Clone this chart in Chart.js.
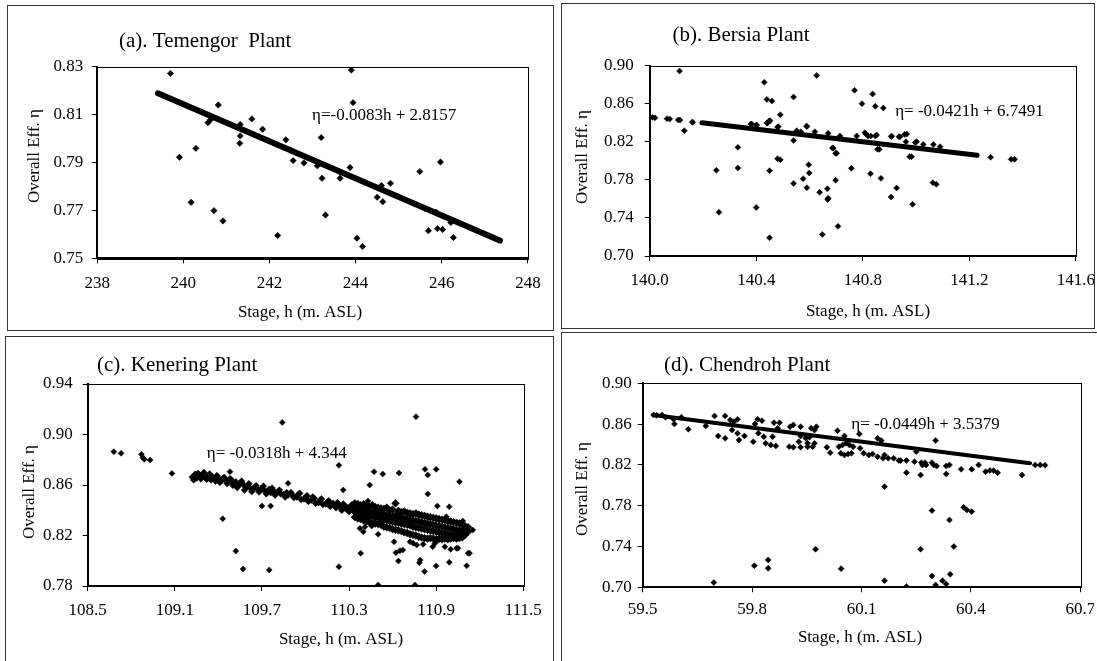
<!DOCTYPE html>
<html><head><meta charset="utf-8">
<script src="https://cdn.jsdelivr.net/npm/chart.js@4.4.0/dist/chart.umd.min.js"></script>
<style>
html,body{margin:0;padding:0;background:#fff;width:1097px;height:661px;overflow:hidden;position:relative}
.frame{position:absolute;border:1.5px solid #333;box-sizing:border-box}
canvas{position:absolute}
</style></head><body>
<div class="frame" style="left:7px;top:5px;width:547px;height:326px"></div>
<div class="frame" style="left:561px;top:3px;width:534px;height:326px"></div>
<div class="frame" style="left:5px;top:336px;width:549px;height:340px"></div>
<div class="frame" style="left:561px;top:332px;width:540px;height:340px"></div>
<canvas id="ca" width="546" height="325" style="left:7px;top:5px"></canvas>
<canvas id="cb" width="533" height="325" style="left:561px;top:3px"></canvas>
<canvas id="cc" width="548" height="325" style="left:5px;top:336px"></canvas>
<canvas id="cd" width="533" height="329" style="left:561px;top:332px"></canvas>
<script>
// ---------- (a) Temengor ----------
const aXTicks = [238, 240, 242, 244, 246, 248];
const aYTicks = [0.75, 0.77, 0.79, 0.81, 0.83];
const aStage = [239.70,239.91,240.18,240.29,240.57,240.63,240.81,240.71,240.92,241.32,241.32,241.31,241.59,241.84,242.19,242.38,242.49,242.55,242.80,243.11,243.20,243.22,243.30,243.64,243.64,243.87,243.90,243.94,244.03,244.16,244.50,244.60,244.63,244.81,245.49,245.60,245.69,245.87,245.90,245.97,246.02,246.21,246.27];
const aEff = [0.8272,0.7922,0.7734,0.7959,0.8066,0.8078,0.8140,0.7699,0.7656,0.8059,0.8011,0.7980,0.8082,0.8039,0.7595,0.7995,0.7952,0.7908,0.7898,0.7886,0.8004,0.7834,0.7681,0.7859,0.7834,0.7879,0.8286,0.8150,0.7584,0.7549,0.7755,0.7804,0.7736,0.7813,0.7862,0.7709,0.7615,0.7692,0.7624,0.7902,0.7620,0.7649,0.7587];
const aFitStage = [239.41, 247.35];
const aFitEff = [0.8189, 0.7574];

// ---------- (b) Bersia ----------
const bXTicks = [140.0, 140.4, 140.8, 141.2, 141.6];
const bYTicks = [0.70, 0.74, 0.78, 0.82, 0.86, 0.90];
const bStage = [140.01,140.02,140.065,140.075,140.107,140.114,140.13,140.16,140.161,
 140.112,140.43,140.627,140.44,140.459,140.54,140.769,140.837,140.797,140.847,140.877,140.49,140.331,140.331,140.25,140.26,140.40,140.45,140.45,140.48,140.49,140.54,140.576,140.59,140.597,140.599,140.638,140.648,140.667,140.668,140.670,140.686,140.698,140.698,140.707,140.757,140.829,140.855,140.868,140.906,140.927,140.936,140.957,140.976,140.987,140.997,141.063,141.076,141.065,141.090,140.54,
 140.38,140.40,140.383,140.402,140.44,140.448,140.441,140.452,140.483,140.48,140.552,140.567,140.589,140.59,140.62,140.67,140.714,140.777,140.808,140.812,140.82,140.83,140.847,140.852,140.862,140.907,140.908,140.94,140.965,140.962,140.983,141.002,141.027,140.689,140.702,
 141.28,141.357,141.37];
const bEff = [0.8457,0.8452,0.8443,0.8440,0.8430,0.8429,0.8317,0.8408,0.8405,
 0.8944,0.8825,0.8898,0.8646,0.8629,0.8671,0.8741,0.8702,0.8601,0.8573,0.8555,0.8485,0.8142,0.7925,0.7900,0.7459,0.7511,0.7897,0.7192,0.8023,0.8012,0.7763,0.7813,0.7718,0.7960,0.7872,0.7669,0.7227,0.7707,0.7595,0.7608,0.8135,0.7795,0.8079,0.7312,0.7921,0.7865,0.8121,0.7816,0.7620,0.7714,0.8254,0.8278,0.8044,0.7543,0.8194,0.7770,0.7753,0.8173,0.8149,0.8215,
 0.8387,0.8376,0.8387,0.8377,0.8400,0.8418,0.8395,0.8422,0.8359,0.8355,0.8317,0.8306,0.8366,0.8360,0.8306,0.8290,0.8261,0.8261,0.8296,0.8282,0.8260,0.8261,0.8260,0.8272,0.8121,0.8254,0.8261,0.8254,0.8282,0.8201,0.8044,0.8201,0.8173,0.8132,0.8079,
 0.8037,0.8016,0.8016];
const bFitStage = [140.196, 141.229];
const bFitEff = [0.8401, 0.8058];

// ---------- (c) Kenering ----------
const cXTicks = [108.5, 109.1, 109.7, 110.3, 110.9, 111.5];
const cYTicks = [0.78, 0.82, 0.86, 0.90, 0.94];
const cStage = [108.68,108.73,108.87,108.88,108.89,108.93,109.08,109.43,109.52,109.57,109.75,109.84,109.88,109.70,109.76,110.23,110.26,110.23,110.38,110.43,110.442,110.472,110.532,110.644,110.50,110.50,110.61,110.623,110.65,110.67,110.64,110.761,110.754,110.784,110.79,110.82,110.823,110.842,110.842,110.90,110.908,110.99,111.06,110.90,110.99,111.11,111.12,111.13,111.04,111.152,111.083,110.97,110.72,110.742,110.766,110.81,110.876,110.892,110.915,110.96,111.00,111.05,110.375,110.41,110.456,110.398,109.48];
const cEff = [0.8864,0.8851,0.8843,0.8817,0.8803,0.8798,0.8692,0.8333,0.8077,0.7935,0.7927,0.9096,0.8613,0.8434,0.8434,0.8756,0.8560,0.7953,0.8059,0.8473,0.8600,0.8705,0.8687,0.8695,0.8210,0.7808,0.8150,0.8064,0.8080,0.8085,0.7998,0.9141,0.7808,0.7985,0.8006,0.7914,0.8724,0.8679,0.8529,0.8724,0.8434,0.8428,0.8626,0.7959,0.7988,0.7960,0.8060,0.8060,0.8099,0.8244,0.8315,0.8349,0.8150,0.8138,0.8125,0.8130,0.8111,0.8138,0.8164,0.8111,0.8091,0.8099,0.8257,0.8270,0.8275,0.8230,0.8705];
const cBandStage = [109.22,109.24,109.25,109.27,109.28,109.30,109.31,109.33,109.35,109.36,109.38,109.40,109.41,109.43,109.45,109.46,109.48,109.50,109.52,109.53,109.55,109.57,109.58,109.60,109.62,109.63,109.65,109.67,109.68,109.70,109.72,109.73,109.75,109.76,109.78,109.79,109.81,109.83,109.86,109.88,109.90,109.92,109.95,109.97,110.00,110.02,110.05,110.07,110.10,110.12,110.15,110.17,110.19,110.21,110.23,110.25,110.27,110.28,110.30,110.31,110.33,
 109.23,109.26,109.29,109.32,109.34,109.37,109.39,109.42,109.44,109.47,109.49,109.51,109.54,109.56,109.59,109.61,109.64,109.66,109.69,109.71,109.74,109.77,109.80,109.82,109.85,109.87,109.91,109.94,109.96,109.99,110.01,110.04,110.06,110.09,110.11,110.14,110.16,110.18,110.20,110.22,110.24,110.26,110.29,110.32];
const cBandEff = [0.8662,0.8685,0.8655,0.8678,0.8648,0.8700,0.8660,0.8672,0.8640,0.8665,0.8630,0.8655,0.8620,0.8648,0.8638,0.8612,0.8650,0.8598,0.8625,0.8580,0.8615,0.8605,0.8560,0.8590,0.8575,0.8548,0.8582,0.8570,0.8545,0.8575,0.8555,0.8530,0.8565,0.8540,0.8552,0.8520,0.8545,0.8530,0.8505,0.8520,0.8540,0.8500,0.8525,0.8485,0.8500,0.8470,0.8505,0.8455,0.8480,0.8445,0.8465,0.8430,0.8455,0.8420,0.8445,0.8400,0.8435,0.8410,0.8390,0.8425,0.8400,
 0.8640,0.8692,0.8670,0.8645,0.8688,0.8650,0.8675,0.8635,0.8660,0.8625,0.8640,0.8610,0.8598,0.8630,0.8585,0.8610,0.8565,0.8595,0.8558,0.8590,0.8550,0.8575,0.8535,0.8560,0.8525,0.8540,0.8520,0.8505,0.8535,0.8490,0.8515,0.8480,0.8495,0.8460,0.8490,0.8450,0.8475,0.8445,0.8435,0.8460,0.8425,0.8450,0.8420,0.8445];
const cBlobStage = [110.34,110.36,110.38,110.40,110.42,110.44,110.46,110.48,110.50,110.52,110.54,110.56,110.58,110.60,110.62,110.64,110.66,110.68,110.70,110.72,110.74,110.76,110.78,110.80,110.82,110.84,110.86,110.88,110.90,110.92,110.94,110.96,110.98,111.00,111.02,111.04,111.06,111.08,111.10,111.12];
const cBlobEff = [
 [0.8455,0.8420,0.8385,0.8345],[0.8450,0.8405,0.8370,0.8335],[0.8440,0.8410,0.8375,0.8330],[0.8448,0.8400,0.8360,0.8320],
 [0.8435,0.8395,0.8365,0.8315],[0.8430,0.8390,0.8350,0.8305],[0.8440,0.8385,0.8355,0.8300],[0.8425,0.8380,0.8340,0.8295],
 [0.8420,0.8375,0.8345,0.8290],[0.8415,0.8370,0.8330,0.8285],[0.8410,0.8365,0.8325,0.8270],[0.8420,0.8360,0.8320,0.8265],
 [0.8400,0.8355,0.8315,0.8260],[0.8405,0.8350,0.8310,0.8250],[0.8455,0.8360,0.8305,0.8245],[0.8395,0.8345,0.8300,0.8240],
 [0.8385,0.8340,0.8295,0.8235],[0.8390,0.8335,0.8290,0.8225],[0.8380,0.8330,0.8285,0.8220],[0.8375,0.8325,0.8280,0.8210],
 [0.8370,0.8320,0.8270,0.8205],[0.8375,0.8315,0.8265,0.8200],[0.8365,0.8310,0.8260,0.8190],[0.8360,0.8305,0.8255,0.8185],
 [0.8355,0.8300,0.8250,0.8180],[0.8350,0.8295,0.8245,0.8175],[0.8345,0.8290,0.8240,0.8180],[0.8340,0.8285,0.8235,0.8175],
 [0.8335,0.8280,0.8230,0.8170],[0.8330,0.8275,0.8225,0.8175],[0.8325,0.8270,0.8220,0.8170],[0.8320,0.8265,0.8215,0.8175],
 [0.8315,0.8260,0.8210,0.8170],[0.8310,0.8255,0.8205,0.8175],[0.8305,0.8250,0.8200,0.8180],[0.8300,0.8245,0.8200,0.8175],
 [0.8295,0.8240,0.8195,0.8180],[0.8285,0.8240,0.8200,0.8185],[0.8275,0.8235,0.8205],[0.8265,0.8230]];

// ---------- (d) Chendroh ----------
const dXTicks = [59.5, 59.8, 60.1, 60.4, 60.7];
const dYTicks = [0.70, 0.74, 0.78, 0.82, 0.86, 0.90];
const dStage = [59.53,59.538,59.553,59.5625,59.587,59.585,59.606,59.625,59.673,59.697,59.707,59.726,59.726,59.740,59.75,59.76,59.745,59.764,59.76,59.779,59.803,59.808,59.815,59.827,59.817,59.832,59.837,59.851,59.865,59.86,59.875,59.87,59.856,59.902,59.913,59.933,59.952,59.966,59.904,59.913,59.933,59.933,59.947,59.957,59.928,59.952,59.971,59.962,59.971,59.976,60.005,60.014,60.034,60.038,60.048,60.058,60.067,60.077,60.043,60.053,60.063,60.072,60.053,60.094,60.096,60.106,60.12,60.13,60.144,60.154,60.144,60.159,60.173,60.188,60.202,60.207,60.163,60.163,60.223,60.223,60.245,60.25,60.264,60.267,60.274,60.277,60.262,60.293,60.298,60.306,60.303,60.332,60.341,60.332,60.373,60.402,60.421,60.44,60.452,60.462,60.473,60.54,60.38,60.389,60.402,60.293,60.341,60.353,60.262,60.293,60.303,60.322,60.332,60.343,60.223,60.163,60.044,59.974,59.844,59.844,59.806,59.695,60.576,60.59,60.603];
const dEff = [0.8690,0.8686,0.8690,0.8667,0.8601,0.8647,0.8667,0.8549,0.8582,0.8680,0.8484,0.8680,0.8461,0.8641,0.8624,0.8647,0.8542,0.8444,0.8510,0.8484,0.8428,0.8601,0.8647,0.8634,0.8510,0.8477,0.8412,0.8395,0.8386,0.8614,0.8614,0.8559,0.8477,0.8379,0.8373,0.8373,0.8379,0.8379,0.8575,0.8592,0.8575,0.8484,0.8461,0.8471,0.8428,0.8412,0.8412,0.8559,0.8542,0.8575,0.8373,0.8320,0.8536,0.8379,0.8395,0.8412,0.8395,0.8379,0.8314,0.8297,0.8307,0.8314,0.8484,0.8503,0.8363,0.8314,0.8297,0.8307,0.8461,0.8438,0.8281,0.8265,0.8265,0.8265,0.8242,0.8242,0.7987,0.8297,0.8242,0.8124,0.8232,0.8330,0.8222,0.8199,0.8222,0.8199,0.8101,0.8222,0.8199,0.8189,0.8438,0.8189,0.8199,0.8111,0.8157,0.8157,0.8199,0.8134,0.8144,0.8144,0.8124,0.8101,0.7784,0.7758,0.7742,0.7752,0.7660,0.7399,0.7373,0.7111,0.7023,0.7065,0.7033,0.7127,0.7007,0.7065,0.7183,0.7373,0.7268,0.7186,0.7212,0.7046,0.8199,0.8199,0.8196];
const dFitStage = [59.529, 60.562];
const dFitEff = [0.8689, 0.8216];

const FONT = '"Liberation Serif","Times New Roman",serif';

const panelText = {
  id: 'panelText',
  afterDraw(chart) {
    const t = chart.options.plugins.panelText;
    const ctx = chart.ctx, a = chart.chartArea;
    ctx.save();
    ctx.strokeStyle = '#000'; ctx.lineWidth = 1;
    ctx.strokeRect(Math.round(a.left) + 0.5, Math.round(a.top) + 0.5, Math.round(a.right - a.left), Math.round(a.bottom - a.top));
    ctx.fillStyle = '#000';
    ctx.textBaseline = 'middle';
    ctx.textAlign = 'left';
    ctx.font = '21px ' + FONT;
    ctx.fillText(t.title, t.titleX, t.titleY);
    ctx.font = '17px ' + FONT;
    ctx.fillText(t.eq, chart.scales.x.getPixelForValue(t.eqAt[0]), chart.scales.y.getPixelForValue(t.eqAt[1]));
    ctx.textAlign = 'center';
    ctx.font = '17px ' + FONT;
    ctx.fillText(t.xTitle, t.xTitleX, t.xTitleY);
    ctx.translate(t.yTitleX, t.yTitleY);
    ctx.rotate(-Math.PI / 2);
    ctx.fillText(t.yTitle, 0, 0);
    ctx.restore();
  }
};

function toPts(xs, ys) { return xs.map((x, i) => ({ x: x, y: ys[i] })); }
function blobPts(xs, yss) { const out = []; xs.forEach((x, i) => yss[i].forEach(y => out.push({ x: x, y: y }))); return out; }

function makePanel(id, s) {
  const datasets = [];
  s.obs.forEach((o, k) => {
    const r = (s.rs && s.rs[k]) || s.r;
    datasets.push({ data: o, pointStyle: 'rectRot', pointRadius: r, pointHoverRadius: r, backgroundColor: '#000', borderColor: '#000', borderWidth: 0.5, showLine: false });
  });
  if (s.fit) datasets.push({ data: s.fit, showLine: true, pointRadius: 0, borderColor: '#000', borderWidth: s.fitW, borderCapStyle: 'round', fill: false });
  new Chart(document.getElementById(id), {
    type: 'scatter',
    data: { datasets: datasets },
    plugins: [panelText],
    options: {
      responsive: false, animation: false, devicePixelRatio: 1,
      layout: { padding: { top: s.padTop, right: s.padRight, left: 0, bottom: 0 } },
      plugins: { legend: { display: false }, tooltip: { enabled: false }, panelText: s.text },
      scales: {
        x: {
          type: 'linear', min: s.xTicks[0], max: s.xTicks[s.xTicks.length - 1],
          afterBuildTicks: sc => { sc.ticks = s.xTicks.map(v => ({ value: v })); },
          afterFit: sc => { sc.height = s.xH; sc.paddingLeft = 0; sc.paddingRight = 0; },
          ticks: { callback: v => v.toFixed(s.xDec), font: { family: FONT, size: 17 }, color: '#000', padding: s.xPad, maxRotation: 0, autoSkip: false },
          grid: { display: true, drawOnChartArea: false, drawTicks: true, tickLength: 5, color: '#000', lineWidth: 1 },
          border: { display: true, color: '#000', width: 2 }
        },
        y: {
          type: 'linear', min: s.yTicks[0], max: s.yTicks[s.yTicks.length - 1],
          afterBuildTicks: sc => { sc.ticks = s.yTicks.map(v => ({ value: v })); },
          afterFit: sc => { sc.width = s.yW; sc.paddingTop = 0; sc.paddingBottom = 0; },
          ticks: { callback: v => v.toFixed(2), font: { family: FONT, size: 17 }, color: '#000', padding: s.yPad, autoSkip: false },
          grid: { display: true, drawOnChartArea: false, drawTicks: true, tickLength: 5, color: '#000', lineWidth: 1 },
          border: { display: true, color: '#000', width: 2 }
        }
      }
    }
  });
}

makePanel('ca', {
  obs: [toPts(aStage, aEff)], fit: toPts(aFitStage, aFitEff), fitW: 6, r: 3.2,
  xTicks: aXTicks, yTicks: aYTicks, xDec: 0,
  padTop: 61.7, padRight: 25.1, yW: 90.2, xH: 71.7, xPad: 10, yPad: 9,
  text: { title: '(a). Temengor  Plant', titleX: 112, titleY: 36.5, eq: '\u03b7=-0.0083h + 2.8157', eqAt: [242.99, 0.8096],
    xTitle: 'Stage, h (m. ASL)', xTitleX: 293, xTitleY: 308, yTitle: 'Overall Eff. \u03b7', yTitleX: 28, yTitleY: 151 }
});
makePanel('cb', {
  obs: [toPts(bStage, bEff)], fit: toPts(bFitStage, bFitEff), fitW: 5, r: 3,
  xTicks: bXTicks, yTicks: bYTicks, xDec: 1,
  padTop: 62.7, padRight: 18.1, yW: 88.7, xH: 72, xPad: 9, yPad: 11,
  text: { title: '(b). Bersia Plant', titleX: 111.5, titleY: 32, eq: '\u03b7= -0.0421h + 6.7491', eqAt: [140.9215, 0.8517],
    xTitle: 'Stage, h (m. ASL)', xTitleX: 307, xTitleY: 308.7, yTitle: 'Overall Eff. \u03b7', yTitleX: 22, yTitleY: 154 }
});
makePanel('cc', {
  obs: [toPts(cStage, cEff), toPts(cBandStage, cBandEff), blobPts(cBlobStage, cBlobEff)], rs: [3, 3.4, 3.9], fit: null, r: 3,
  xTicks: cXTicks, yTicks: cYTicks, xDec: 1,
  padTop: 48, padRight: 29.7, yW: 82.7, xH: 75, xPad: 9, yPad: 10,
  text: { title: '(c). Kenering Plant', titleX: 92, titleY: 29, eq: '\u03b7= -0.0318h + 4.344', eqAt: [109.32, 0.885],
    xTitle: 'Stage, h (m. ASL)', xTitleX: 336, xTitleY: 304, yTitle: 'Overall Eff. \u03b7', yTitleX: 25, yTitleY: 156 }
});
makePanel('cd', {
  obs: [toPts(dStage, dEff)], fit: toPts(dFitStage, dFitEff), fitW: 4, r: 3,
  xTicks: dXTicks, yTicks: dYTicks, xDec: 1,
  padTop: 51.3, padRight: 13.6, yW: 81.7, xH: 73.7, xPad: 7, yPad: 6,
  text: { title: '(d). Chendroh Plant', titleX: 103, titleY: 33, eq: '\u03b7= -0.0449h + 3.5379', eqAt: [60.072, 0.8591],
    xTitle: 'Stage, h (m. ASL)', xTitleX: 299, xTitleY: 306, yTitle: 'Overall Eff. \u03b7', yTitleX: 22, yTitleY: 157 }
});
</script>
</body></html>
